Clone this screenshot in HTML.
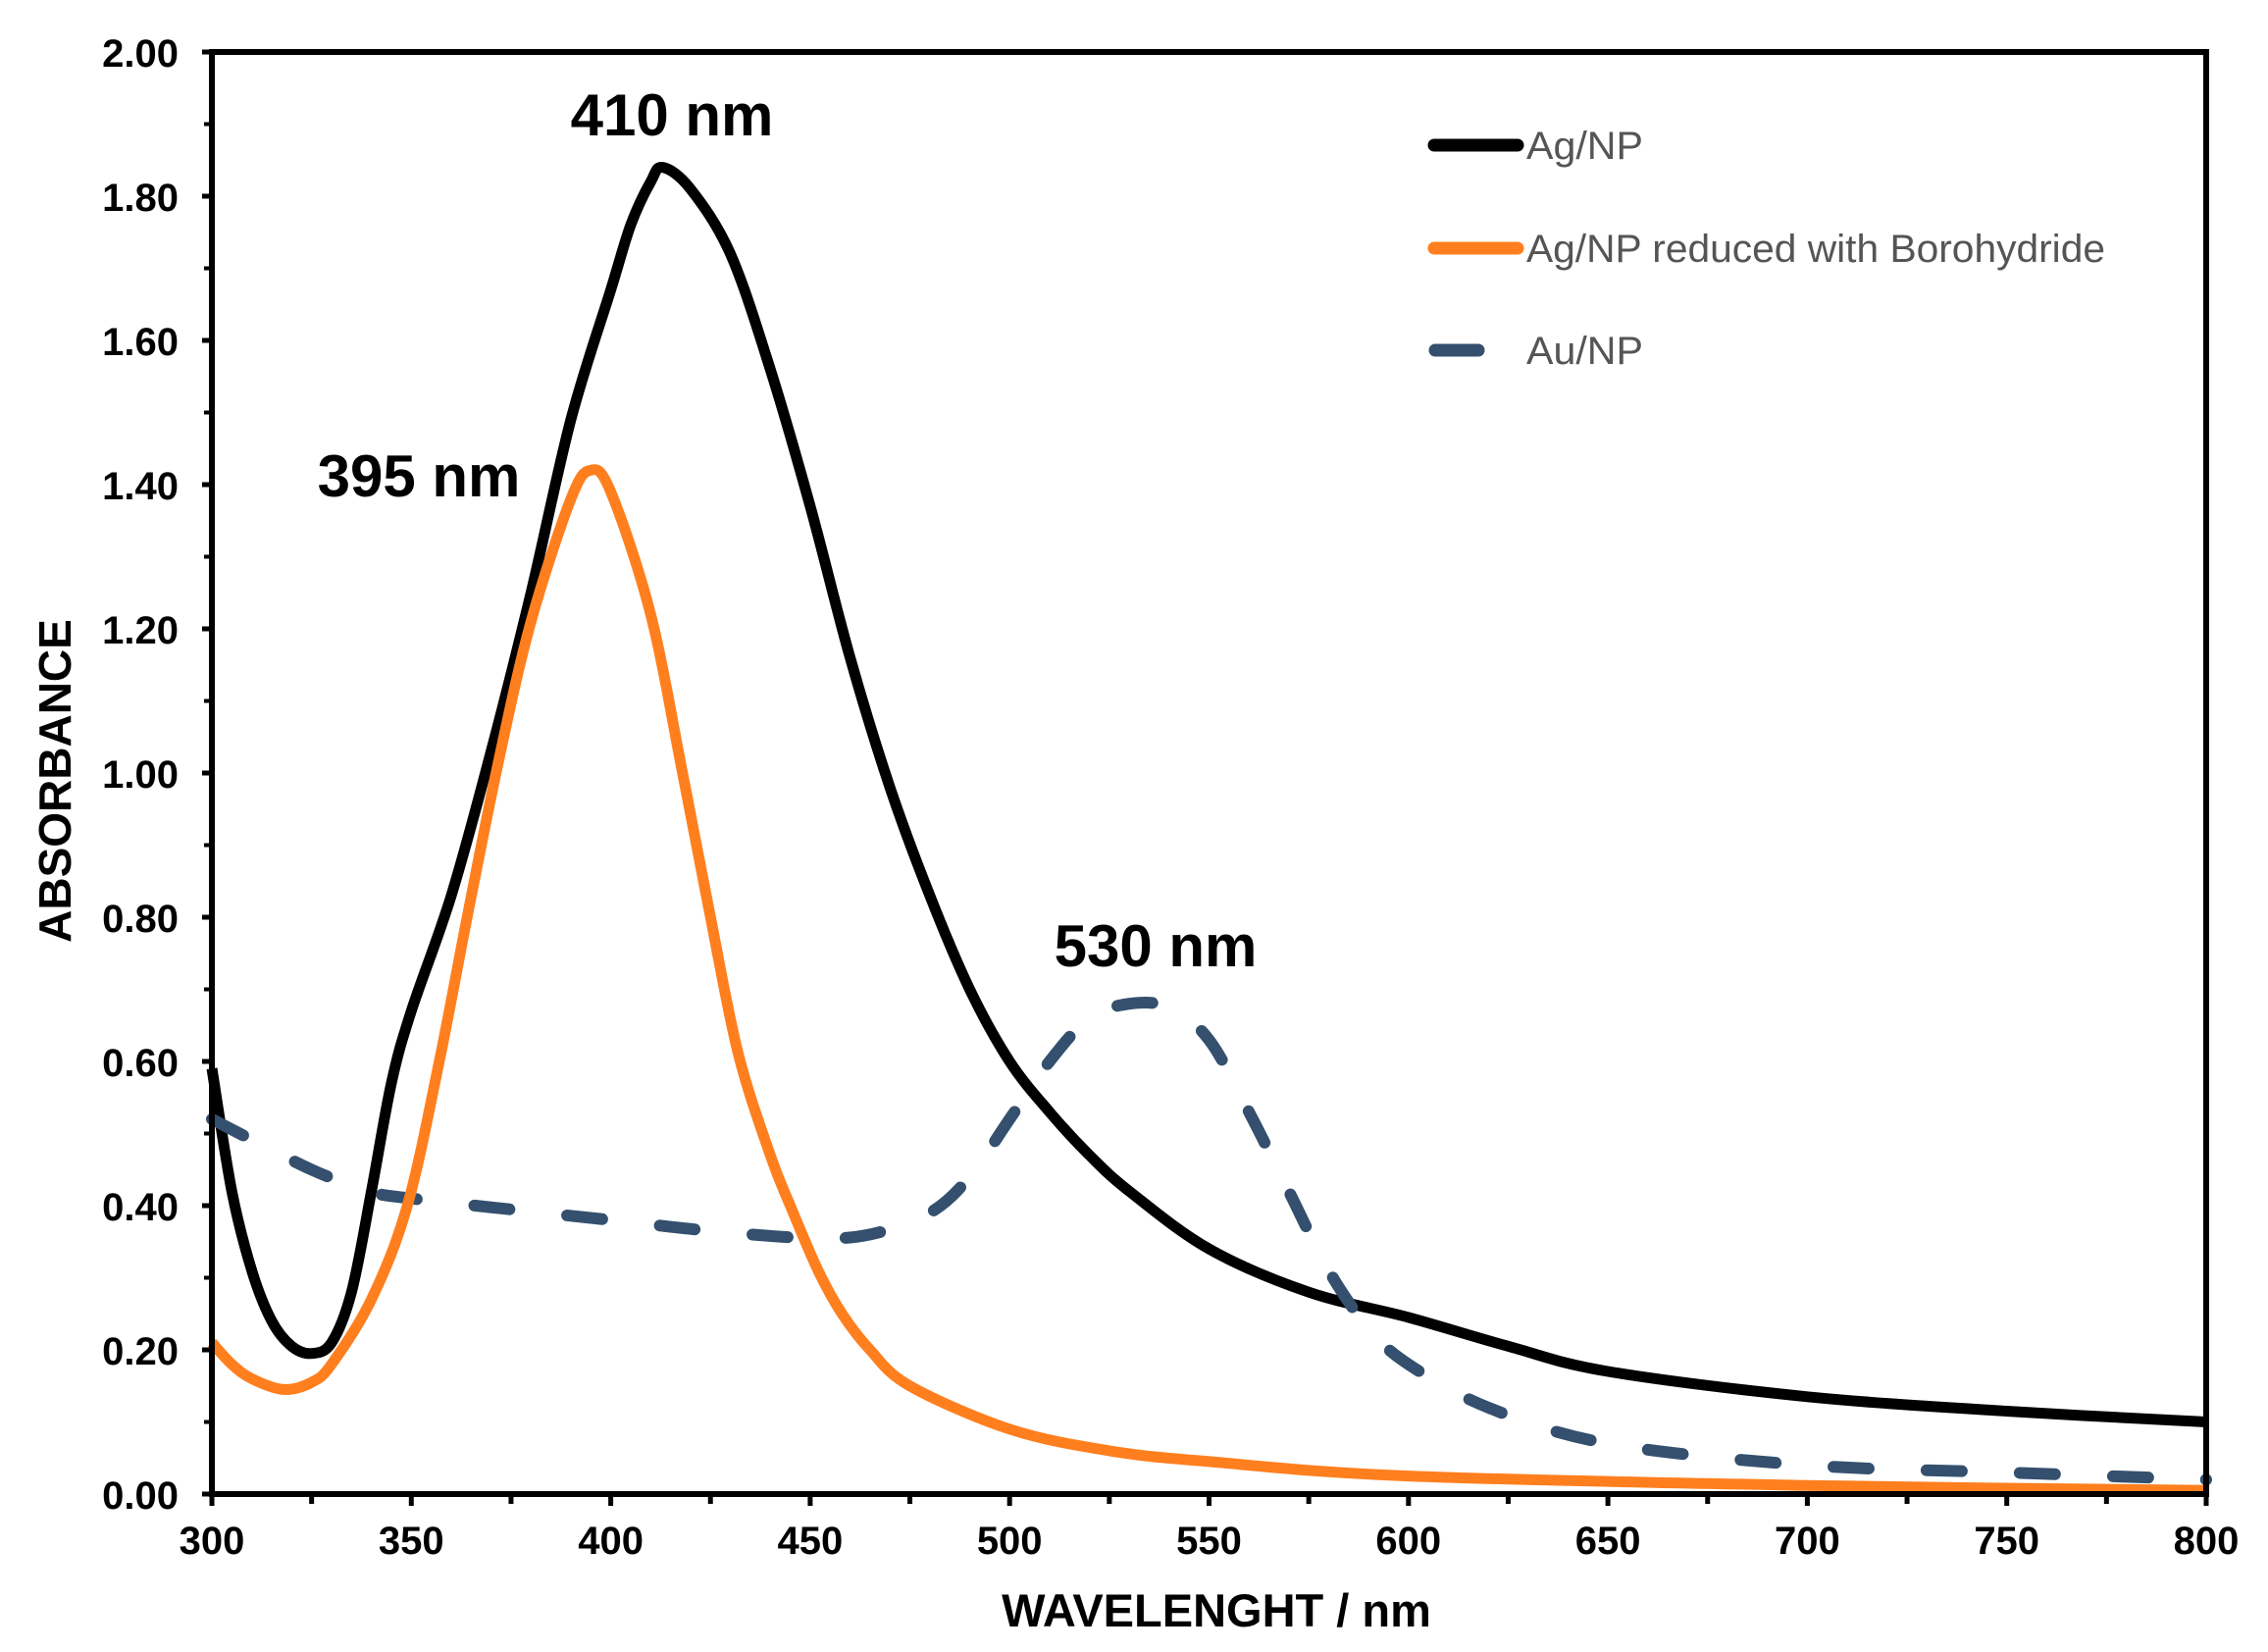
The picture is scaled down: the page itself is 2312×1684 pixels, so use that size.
<!DOCTYPE html>
<html><head><meta charset="utf-8"><style>
html,body{margin:0;padding:0;background:#fff;}
svg{display:block;font-family:"Liberation Sans",Arial,sans-serif;}
</style></head><body>
<svg id="chart" width="2312" height="1684" viewBox="0 0 2312 1684" xmlns="http://www.w3.org/2000/svg">
<g id="series"></g>
<g id="axes"></g>
<text x="685" y="138" font-size="60" font-weight="bold" text-anchor="middle">410 nm</text>
<text x="427" y="506" font-size="60" font-weight="bold" text-anchor="middle">395 nm</text>
<text x="1178" y="985" font-size="60" font-weight="bold" text-anchor="middle">530 nm</text>
<text x="1240" y="1658" font-size="47" font-weight="bold" text-anchor="middle">WAVELENGHT / nm</text>
<text transform="translate(72,796) rotate(-90)" font-size="46" font-weight="bold" text-anchor="middle">ABSORBANCE</text>
<g>
<g>
<line x1="1462" y1="148" x2="1547" y2="148" stroke="#000" stroke-width="13" stroke-linecap="round"/>
<text x="1556" y="162" font-size="40" fill="#555" textLength="119" lengthAdjust="spacingAndGlyphs">Ag/NP</text></g>
<g>
<line x1="1462" y1="253" x2="1547" y2="253" stroke="#ff7f1e" stroke-width="13" stroke-linecap="round"/>
<text x="1556" y="267" font-size="40" fill="#555" textLength="590" lengthAdjust="spacingAndGlyphs">Ag/NP reduced with Borohydride</text></g>
<g>
<line x1="1463" y1="357" x2="1507" y2="357" stroke="#34506e" stroke-width="13" stroke-linecap="round"/>
<text x="1556" y="371" font-size="40" fill="#555" textLength="119" lengthAdjust="spacingAndGlyphs">Au/NP</text></g>
</g>
</svg>
<script>
const agX=[300,305,310,315,320,325,330,335,340,345,350,360,370,380,390,400,405,410,413,420,430,440,450,460,470,480,490,500,510,520,530,550,575,600,625,650,700,750,800];
const agY=[0.59,0.42,0.31,0.24,0.205,0.195,0.21,0.28,0.42,0.57,0.67,0.83,1.03,1.25,1.49,1.67,1.76,1.82,1.84,1.81,1.72,1.56,1.37,1.16,0.98,0.83,0.70,0.60,0.53,0.47,0.42,0.34,0.28,0.245,0.205,0.17,0.135,0.115,0.10];
const boX=[300,305,310,318,325,330,340,349,357,364,372,380,390,395,400,410,418,425,432,440,445,452,458,465,475,500,525,550,600,700,800];
const boY=[0.21,0.18,0.16,0.145,0.155,0.18,0.27,0.40,0.60,0.80,1.02,1.21,1.38,1.42,1.39,1.22,1.00,0.80,0.61,0.47,0.40,0.31,0.25,0.20,0.15,0.09,0.06,0.045,0.025,0.012,0.005];
const auX=[300,325,340,350,400,425,450,465,480,490,500,510,520,530,540,550,560,570,580,590,600,620,650,700,750,800];
const auY=[0.52,0.45,0.42,0.41,0.38,0.365,0.355,0.36,0.39,0.44,0.52,0.60,0.66,0.68,0.675,0.63,0.53,0.42,0.31,0.23,0.18,0.12,0.07,0.04,0.03,0.02];
const yTicks=["0.00","0.20","0.40","0.60","0.80","1.00","1.20","1.40","1.60","1.80","2.00"];
const xTicks=["300","350","400","450","500","550","600","650","700","750","800"];
const NS="http://www.w3.org/2000/svg";
const L=216,R=2249,T=53,B=1523;
const sx=v=>L+(v-300)/500*(R-L);
const sy=v=>B-v/2*(B-T);
function mk(tag,attrs,parent){const e=document.createElementNS(NS,tag);for(const k in attrs)e.setAttribute(k,attrs[k]);parent.appendChild(e);return e;}
function smooth(xs,ys){const p=xs.map((x,i)=>[sx(x),sy(ys[i])]);let d="M"+p[0][0].toFixed(1)+","+p[0][1].toFixed(1);
for(let i=0;i<p.length-1;i++){const p0=p[Math.max(i-1,0)],p1=p[i],p2=p[i+1],p3=p[Math.min(i+2,p.length-1)];
const c1=[p1[0]+(p2[0]-p0[0])/6,p1[1]+(p2[1]-p0[1])/6],c2=[p2[0]-(p3[0]-p1[0])/6,p2[1]-(p3[1]-p1[1])/6];
d+=" C"+c1.map(v=>v.toFixed(1))+" "+c2.map(v=>v.toFixed(1))+" "+p2.map(v=>v.toFixed(1));}return d;}
const sg=document.getElementById('series');
const a=mk('path',{d:smooth(agX,agY),fill:'none',stroke:'#000','stroke-width':11,'stroke-linejoin':'round'},sg);


const au=mk('path',{d:smooth(auX,auY),fill:'none',stroke:'#34506e','stroke-width':12,'stroke-dasharray':'36 59','stroke-linecap':'round'},sg);


const b=mk('path',{d:smooth(boX,boY),fill:'none',stroke:'#ff7f1e','stroke-width':11,'stroke-linejoin':'round'},sg);


const ag=document.getElementById('axes');
const frame=mk('path',{d:`M${L},${T} H${R} V${B} H${L} Z`,fill:'none',stroke:'#000','stroke-width':6},ag);


yTicks.forEach((t,i)=>{const v=parseFloat(t),y=sy(v);
mk('line',{x1:L-10,y1:y,x2:L,y2:y,stroke:'#000','stroke-width':5},ag);
if(i<yTicks.length-1){const ym=sy(v+0.1);mk('line',{x1:L-8,y1:ym,x2:L,y2:ym,stroke:'#000','stroke-width':4},ag);}
const tx=mk('text',{x:182,y:y+15,'font-size':40,'font-weight':'bold','text-anchor':'end'},ag);tx.textContent=t;

});
xTicks.forEach((t,i)=>{const v=parseFloat(t),x=sx(v);
mk('line',{x1:x,y1:B,x2:x,y2:B+12,stroke:'#000','stroke-width':5},ag);
if(i<xTicks.length-1){const xm=sx(v+25);mk('line',{x1:xm,y1:B,x2:xm,y2:B+10,stroke:'#000','stroke-width':5},ag);}
const tx=mk('text',{x:x,y:1584,'font-size':40,'font-weight':'bold','text-anchor':'middle'},ag);tx.textContent=t;

});
</script>
</body></html>
